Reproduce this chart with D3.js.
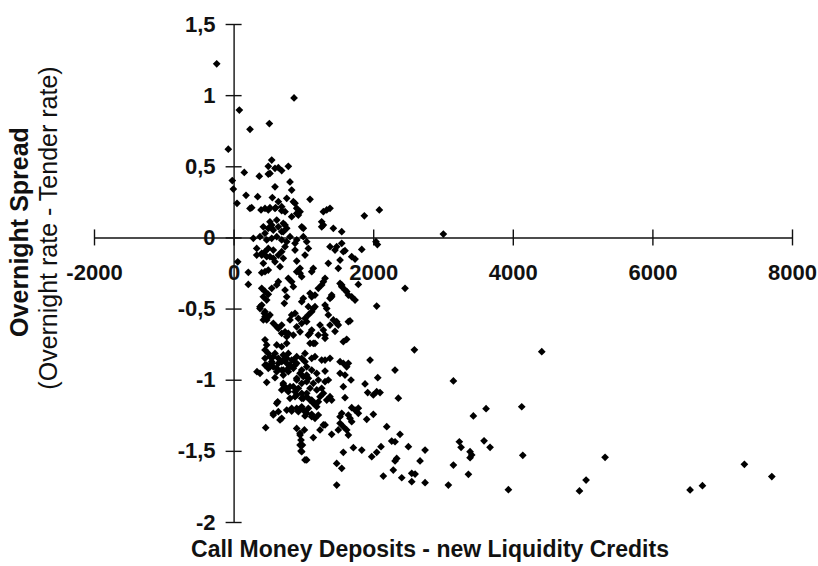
<!DOCTYPE html>
<html>
<head>
<meta charset="utf-8">
<script src="https://cdn.jsdelivr.net/npm/d3@7"></script>
<style>
  html, body { margin: 0; padding: 0; background: #fff; }
  svg { display: block; }
</style>
</head>
<body>
<svg id="chart" width="818" height="566"></svg>
<script>
// ---- Data ----
const xTicks = [-2000, 0, 2000, 4000, 6000, 8000];
const yTicks = [-2, -1.5, -1, -0.5, 0, 0.5, 1, 1.5];
const xTitle = "Call Money Deposits - new Liquidity Credits";
const yTitle = "Overnight Spread";
const ySubtitle = "(Overnight rate - Tender rate)";

// [deposits - credits, overnight spread]
const pointsAboveZero = [
  [-242,1.22],[866,0.98],[82,0.895],[512,0.80],[235,0.76],[-76,0.62],[546,0.544],[497,0.50],[641,0.49],
  [689,0.47],[784,0.50],[497,0.445],[153,0.457],[368,0.43],[-19,0.40],[-4,0.34],[49,0.24],[178,0.296],
  [345,0.286],[593,0.356],[808,0.39],[832,0.333],[555,0.28],[761,0.275],[1095,0.268],[259,0.209],[393,0.193],
  [521,0.209],[603,0.209],[689,0.188],[880,0.24],[904,0.205],[832,0.146],[928,0.157],[976,0.075],[737,0.087],
  [618,0.122],[521,0.11],[426,0.075],[546,0.064],[712,0.04],[1334,0.193],[1381,0.205],[1262,0.11],[1262,0.075],
  [1429,0.064],[1549,0.04],[1873,0.152],[2088,0.193],[3005,0.024],[235,0.204],[450,0.204],[497,0.193],
  [593,0.204],[641,0.251],[689,0.216],[737,0.181],[856,0.251],[904,0.169],[952,0.181],[999,0.064],[546,0.087],
  [497,0.064],[569,0.052],[641,0.075],[712,0.099],[761,0.064],[689,0.04],[450,0.029],[1286,0.181],[1286,0.087],
  [521,0.45],[593,0.486]
];
const pointsNearZero = [
  [283,-0.006],[378,0.005],[474,-0.018],[546,-0.006],[618,0.005],[689,-0.018],[808,0.005],[904,-0.018],
  [999,0.005],[1047,-0.03],[880,-0.041],[761,-0.03],[2040,-0.03],[2060,-0.05],[1477,-0.065],[1596,-0.093],
  [1836,-0.084],[1549,-0.041],[1381,-0.065],[1453,-0.089],[1572,-0.1],[1071,-0.077],[880,-0.089],[737,-0.065],
  [689,-0.1],[641,-0.124],[712,-0.147],[569,-0.089],[497,-0.077],[450,-0.1],[403,-0.124],[331,-0.124],
  [569,-0.147],[521,-0.135],[593,-0.171],[665,-0.206],[450,-0.241],[403,-0.248],[497,-0.229],[211,-0.245],
  [59,-0.171],[211,-0.33],[331,-0.077],[403,-0.112],[474,-0.135],[426,-0.182],[1692,-0.135],[1740,-0.152],
  [1525,-0.159],[1500,-0.217],[1357,-0.182],[1142,-0.217],[1119,-0.241],[904,-0.166],[952,-0.217],
  [1023,-0.124],[952,-0.252],[976,-0.276],[904,-0.241]
];
const pointsMiddle = [
  [2456,-0.358],[1787,-0.33],[1549,-0.334],[1596,-0.37],[1692,-0.417],[1740,-0.44],[1405,-0.417],[2050,-0.482],
  [1668,-0.587],[1429,-0.58],[1477,-0.604],[1453,-0.66],[1620,-0.716],[403,-0.358],[450,-0.38],[497,-0.4],
  [426,-0.417],[474,-0.44],[403,-0.475],[378,-0.5],[440,-0.533],[497,-0.557],[546,-0.358],[618,-0.334],
  [641,-0.311],[737,-0.37],[784,-0.287],[832,-0.311],[856,-0.346],[761,-0.417],[727,-0.463],[999,-0.428],
  [976,-0.452],[1095,-0.393],[1119,-0.417],[1166,-0.405],[1214,-0.358],[1262,-0.334],[1310,-0.287],
  [1286,-0.311],[1405,-0.405],[1381,-0.428],[1310,-0.475],[1334,-0.5],[1525,-0.323],[1549,-0.346],
  [1620,-0.38],[1644,-0.405],[832,-0.545],[880,-0.533],[928,-0.569],[808,-0.58],[976,-0.604],[904,-0.628],
  [1023,-0.569],[1071,-0.545],[1047,-0.592],[1119,-0.522],[1142,-0.5],[1166,-0.487],[1071,-0.487],
  [569,-0.604],[618,-0.628],[689,-0.616],[737,-0.663],[784,-0.674],[856,-0.686],[952,-0.663],[761,-0.698],
  [450,-0.557],[474,-0.58],[521,-0.545],[1357,-0.545],[1477,-0.592],[1500,-0.616],[1381,-0.616],[1644,-0.592],
  [1238,-0.616],[1286,-0.651],[1310,-0.686],[1214,-0.686],[1119,-0.651],[1095,-0.674],[1071,-0.686],
  [1572,-0.733],[450,-0.72],[474,-0.756],[618,-0.756],[761,-0.744],[1095,-0.744],[1142,-0.744],[1166,-0.744],
  [1310,-0.709],[2590,-0.79],[4415,-0.803],[378,-0.487],[450,-0.522],[426,-0.58],[641,-0.639],[689,-0.674],
  [450,-0.791],[689,-0.768]
];
const pointsLower = [
  [497,-0.815],[569,-0.838],[641,-0.85],[712,-0.826],[784,-0.815],[856,-0.862],[904,-0.838],[976,-0.85],
  [1023,-0.815],[1166,-0.838],[1262,-0.862],[1381,-0.85],[1525,-0.873],[1644,-0.885],[1955,-0.862],
  [2312,-0.932],[2065,-0.986],[1883,-1.03],[1921,-1.09],[2002,-1.107],[2050,-1.084],[2098,-1.09],[2360,-1.13],
  [1572,-0.885],[1620,-0.909],[1525,-0.955],[1596,-0.967],[1682,-1.002],[1572,-1.049],[1596,-1.126],
  [1692,-1.197],[1740,-1.213],[1787,-1.2],[1787,-1.236],[1644,-1.248],[1668,-1.271],[1692,-1.295],
  [1549,-1.236],[1525,-1.26],[1525,-1.306],[1572,-1.33],[1620,-1.353],[1907,-1.278],[2002,-1.243],
  [2194,-1.33],[2384,-1.384],[1405,-1.384],[1500,-1.353],[1644,-1.389],[1142,-1.407],[1310,-1.318],
  [1238,-1.353],[952,-1.389],[966,-1.424],[986,-1.459],[966,-1.501],[1047,-1.564],[1014,-1.353],
  [460,-1.337],[665,-1.283],[569,-1.236],[632,-1.155],[378,-0.955],[474,-1.018],[593,-0.986],[712,-1.037],
  [761,-1.06],[689,-1.072],[808,-1.049],[880,-1.084],[880,-1.119],[928,-1.06],[976,-1.096],[999,-1.131],
  [1047,-1.119],[1095,-1.06],[1119,-1.143],[1166,-1.166],[1214,-1.155],[1071,-1.201],[1119,-1.243],
  [1023,-1.255],[1166,-1.271],[976,-1.19],[904,-1.201],[928,-1.225],[832,-1.22],[761,-1.213],[1214,-1.248],
  [1262,-1.06],[1310,-1.014],[1357,-1.002],[1381,-1.119],[1405,-1.143],[1310,-0.939],[1191,-0.955],
  [1214,-1.002],[999,-0.979],[952,-0.955],[904,-0.99],[1071,-0.99],[689,-0.873],[761,-0.885],[832,-0.862],
  [1023,-0.873],[1119,-0.85],[1310,-0.862],[521,-0.909],[618,-0.92],[712,-0.932],[784,-0.92],[880,-0.897],
  [1047,-0.909],[450,-0.897],[546,-0.885],[335,-0.944],[521,-0.838],[593,-0.815],[546,-0.873],[474,-0.897],
  [569,-0.909],[497,-0.92],[641,-0.885],[712,-0.862],[761,-0.85],[808,-0.897],[689,-0.932],[618,-0.944],
  [712,-0.967],[784,-0.944],[856,-0.92],[904,-0.885],[450,-0.85],[712,-1.025],[737,-1.06],[784,-1.084],
  [856,-1.049],[904,-1.107],[976,-1.131],[808,-1.131],[1047,-1.096],[1095,-1.143],[1142,-1.166],[1191,-1.19],
  [1119,-1.26],[1047,-1.236],[999,-1.213],[928,-1.213],[832,-1.201],[641,-1.225],[569,-1.248],[689,-1.271],
  [618,-1.166],[904,-1.002],[976,-1.025],[1047,-1.014],[1142,-1.025],[1191,-1.072],[1238,-1.119],
  [1286,-1.096],[1334,-1.143],[1047,-0.967],[976,-0.932],[1119,-0.932],[904,-1.342],[952,-1.377],
  [952,-1.459],[976,-1.506],[1023,-1.564],[1286,-1.318],[1477,-1.588],[1549,-1.623],[1477,-1.74]
];
const pointsTail = [
  [2265,-1.431],[2313,-1.436],[2112,-1.471],[2050,-1.51],[1979,-1.541],[1836,-1.494],[1716,-1.478],
  [1572,-1.51],[2504,-1.471],[2337,-1.553],[2313,-1.571],[2288,-1.635],[2409,-1.689],[2552,-1.658],
  [2552,-1.717],[2145,-1.677],[3149,-1.009],[3617,-1.204],[4128,-1.19],[3435,-1.255],[2743,-1.494],
  [3234,-1.436],[3259,-1.475],[3588,-1.429],[3674,-1.475],[3388,-1.506],[3411,-1.529],[3388,-1.548],
  [4143,-1.531],[3149,-1.6],[3364,-1.665],[3077,-1.74],[3937,-1.773],[4955,-1.782],[2743,-1.724],
  [2600,-1.663],[2671,-1.571],[5322,-1.545],[5050,-1.705],[7318,-1.595],[7711,-1.681],[6540,-1.775],
  [6717,-1.745]
];

const allPoints = [].concat(pointsAboveZero, pointsNearZero, pointsMiddle, pointsLower, pointsTail);

// ---- Layout ----
const svg = d3.select("#chart");
const x = d3.scaleLinear().domain([-2000, 8000]).range([94, 792]);
const y = d3.scaleLinear().domain([-2, 1.5]).range([522, 24]);
const fmt = d => String(d).replace(".", ",");
const FONT = "'Liberation Sans', Arial, Helvetica, sans-serif";

// X axis (crossing at y = 0)
const xAxis = svg.append("g")
  .attr("transform", `translate(0,${y(0)})`)
  .call(d3.axisBottom(x).tickValues(xTicks).tickFormat(fmt)
        .tickSizeInner(8).tickSizeOuter(0).tickPadding(19));
xAxis.selectAll(".tick line").attr("y1", -8).attr("y2", 8);

// Y axis (crossing at x = 0)
const yAxis = svg.append("g")
  .attr("transform", `translate(${x(0)},0)`)
  .call(d3.axisLeft(y).tickValues(yTicks).tickFormat(fmt)
        .tickSizeInner(8).tickSizeOuter(0).tickPadding(10));
yAxis.selectAll(".tick line").attr("x1", 8).attr("x2", -8);

[xAxis, yAxis].forEach(g => {
  g.select(".domain").attr("stroke", "#111").attr("stroke-width", 1.4);
  g.selectAll(".tick line").attr("stroke", "#111").attr("stroke-width", 1.4);
  g.selectAll(".tick text")
    .attr("font-family", FONT).attr("font-weight", "bold")
    .attr("font-size", 22).attr("fill", "#111");
});

// Points (diamonds)
const diamond = d3.symbol().type(d3.symbolSquare).size(30);
svg.append("g").selectAll("path")
  .data(allPoints)
  .join("path")
  .attr("d", diamond)
  .attr("transform", d => `translate(${x(d[0])},${y(d[1])}) rotate(45)`)
  .attr("fill", "#000");

// Titles
svg.append("text")
  .attr("x", 430).attr("y", 557)
  .attr("text-anchor", "middle")
  .attr("font-family", FONT).attr("font-weight", "bold").attr("font-size", 23)
  .attr("fill", "#111")
  .text(xTitle);

svg.append("text")
  .attr("transform", "translate(28,232) rotate(-90)")
  .attr("text-anchor", "middle")
  .attr("font-family", FONT).attr("font-weight", "bold").attr("font-size", 25)
  .attr("fill", "#111")
  .text(yTitle);

svg.append("text")
  .attr("transform", "translate(57,228) rotate(-90)")
  .attr("text-anchor", "middle")
  .attr("font-family", FONT).attr("font-size", 25)
  .attr("fill", "#111")
  .text(ySubtitle);
</script>
</body>
</html>
